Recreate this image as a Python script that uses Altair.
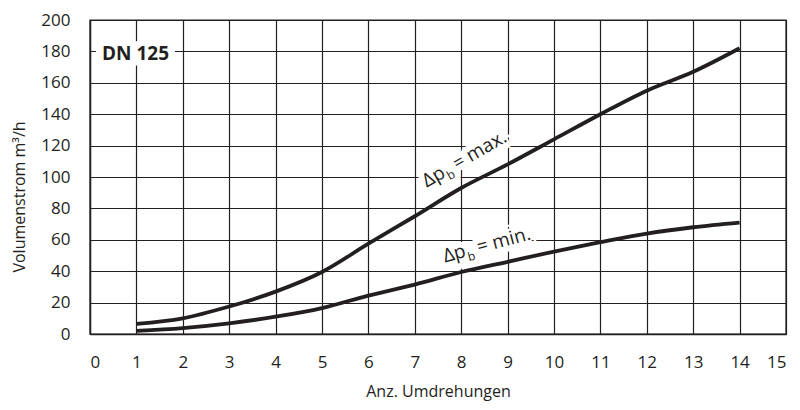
import altair as alt
import pandas as pd

umdrehungen = list(range(1, 15))
dp_max = [6.5, 10, 17.5, 27, 39.5, 57.5, 75, 93, 108, 124, 140, 155, 167, 182]
dp_min = [2, 3.8, 6.8, 11, 16.5, 24.5, 31.5, 39.5, 46, 52.5, 58.5, 64, 68, 71]

x_ticks = list(range(0, 16))
y_ticks = list(range(0, 201, 20))

FONT = "Open Sans"
INK = "#231f20"

df = pd.DataFrame({
    "x": umdrehungen * 2,
    "y": dp_max + dp_min,
    "s": ["max"] * 14 + ["min"] * 14,
})

xs = alt.Scale(domain=[0, 15], nice=False)
ys = alt.Scale(domain=[0, 200], nice=False)

X = alt.X("x:Q", scale=xs, axis=alt.Axis(values=x_ticks, title="Anz. Umdrehungen", grid=True,
                                         ticks=False, labelPadding=20,
                                         titleY=62, titleBaseline="alphabetic",
                                         labelFontSize=17, titleFontSize=16))
Y = alt.Y("y:Q", scale=ys, axis=alt.Axis(values=y_ticks, title="Volumenstrom m³/h", grid=True,
                                         ticks=False, labelPadding=20,
                                         titleX=-71, titleY=176.5, titleBaseline="middle",
                                         labelFontSize=17, titleFontSize=16))

lines = alt.Chart(df).mark_line(color=INK, strokeWidth=3.8, interpolate="monotone").encode(
    x=X, y=Y, detail="s:N",
)

box_df = pd.DataFrame({"x": [0.13], "x2": [1.83], "y": [171], "y2": [186.5]})
box = alt.Chart(box_df).mark_rect(fill="white").encode(x=X, x2="x2:Q", y=Y, y2="y2:Q")
dn_df = pd.DataFrame({"x": [0.98], "y": [178.5], "t": ["DN 125"]})
dn = alt.Chart(dn_df).mark_text(font=FONT, fontSize=19, fontWeight="bold", color=INK,
                                baseline="middle", align="center").encode(x=X, y=Y, text="t:N")

label_x = [7.26, 7.65]
label_y = [93.2, 45.6]
label_angle = [330, 345]
label_word = ["= max.", "= min."]


def label(i):
    d = pd.DataFrame({"x": [label_x[i]], "y": [label_y[i]]})
    base = alt.Chart(d).encode(x=X, y=Y)
    ang = label_angle[i]
    parts = [("Δp", 19, 0, 0), ("b", 12, 23.5, 5), (label_word[i], 19, 35, 0)]
    layers = []
    for halo in (True, False):
        for t, fs, dx, dy in parts:
            kw = dict(font=FONT, fontSize=fs, align="left", baseline="alphabetic", angle=ang,
                      dx=dx, dy=dy, text=t)
            if halo:
                kw.update(fill="white", stroke="white", strokeWidth=12, strokeJoin="round")
            else:
                kw.update(color=INK)
            layers.append(base.mark_text(**kw))
    return layers


chart = alt.layer(lines, box, dn, *label(0), *label(1)).properties(
    width=696, height=314,
    background="white",
    autosize=alt.AutoSizeParams(type="none"),
    padding={"left": 82, "top": 12, "right": 6, "bottom": 68},
).configure_axis(
    labelFont=FONT, titleFont=FONT, labelColor=INK, titleColor=INK,
    gridColor=INK, gridWidth=1.2, gridOpacity=1, domainColor=INK, domainWidth=1.4,
    titleFontWeight="normal",
).configure_view(stroke=INK, strokeWidth=1.4)

chart.save("out.html", embed_options={"renderer": "svg", "actions": False})
